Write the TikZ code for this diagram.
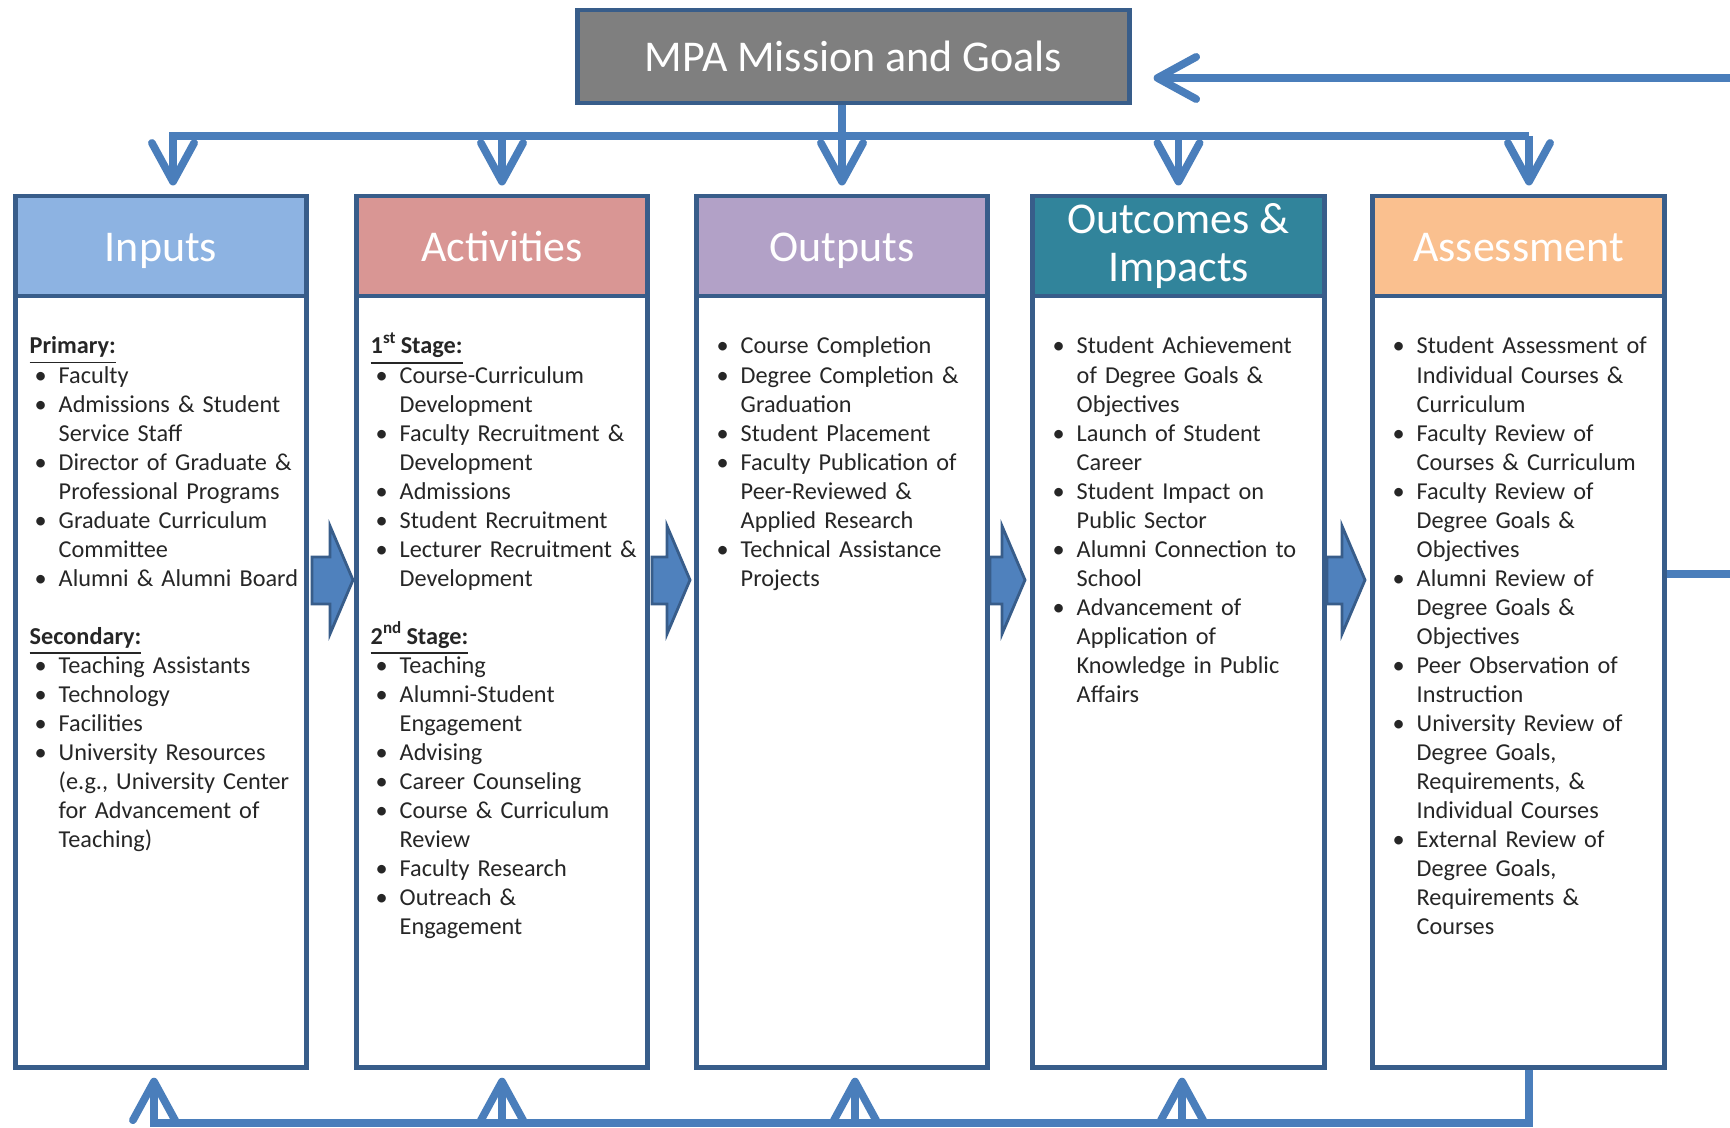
\documentclass[tikz,border=0pt]{standalone}
\usepackage{fontspec}
\setmainfont{Carlito}
\usetikzlibrary{arrows.meta}

\definecolor{mpagray}{HTML}{7F7F7F}
\definecolor{edgeblue}{HTML}{385D8A}
\definecolor{flowblue}{HTML}{4A7EBB}
\definecolor{blockc}{HTML}{4F81BD}
\definecolor{inputsc}{HTML}{8DB3E2}
\definecolor{activc}{HTML}{D99694}
\definecolor{outputc}{HTML}{B2A1C7}
\definecolor{outcomec}{HTML}{31849B}
\definecolor{assessc}{HTML}{FAC08F}

% list items with a hanging indent
\newcommand{\fitm}{\noindent\hangindent=2.9mm\hangafter=1\makebox[2.9mm][l]{\hspace{0.5mm}\textbullet}}
\newcommand{\itm}{\par\fitm}
\newcommand{\nl}{\hfil\break}
\newcommand{\gap}{\par\vspace{8.25pt}}

\begin{document}
\begin{tikzpicture}[x=0.01cm, y=-0.01cm,
    headbox/.style={draw=edgeblue, line width=1.4pt, minimum width=2.91cm, minimum height=1cm,
        inner sep=0pt, text=white, align=center, font=\fontsize{12.5}{13.8}\selectfont},
    oneline/.style={text height=11pt, text depth=2.4pt},
    bodybox/.style={draw=edgeblue, line width=1.4pt, fill=white, minimum width=2.91cm, minimum height=7.71cm},
    coltext/.style={anchor=base west, inner sep=0pt, text width=2.74cm, text=black!85,
        font=\fontsize{6.9}{8.25}\selectfont, execute at begin node={\rightskip=0pt plus 1fil\relax}},
    flow/.style={draw=flowblue, line width=2.2pt},
    flowarr/.style={flow, -{Straight Barb[length=11pt, width=12pt, round]}, shorten >=0.08cm},
    blockarr/.style={fill=blockc, draw=edgeblue, line width=0.8pt}]
    \useasboundingbox (0,0) rectangle (1730,1128);

    % Mission box
    \node (mpa) at (853.5,56.5) [draw=edgeblue, line width=1.4pt, fill=mpagray, minimum width=5.51cm,
        minimum height=0.93cm, text=white!95, font=\fontsize{12.5}{13.8}\selectfont] {MPA Mission and Goals};

    % Column bodies
    \node[bodybox] (inB) at (161,681.5) {};
    \node[bodybox] (acB) at (502,681.5) {};
    \node[bodybox] (ouB) at (842,681.5) {};
    \node[bodybox] (ocB) at (1178.5,681.5) {};
    \node[bodybox] (asB) at (1518.5,681.5) {};

    % Column headers
    \node[headbox, oneline, fill=inputsc] (inH) at (161,246) {Inputs};
    \node[headbox, oneline, fill=activc] (acH) at (502,246) {Activities};
    \node[headbox, oneline, fill=outputc] (ouH) at (842,246) {Outputs};
    \node[headbox, fill=outcomec] (ocH) at (1178.5,246) {Outcomes \&\\Impacts};
    \node[headbox, oneline, fill=assessc] (asH) at (1518.5,246) {Assessment};

    % Column contents
    \node[coltext] (inT) at (29,354) {\underline{\textbf{Primary:}}
        \itm Faculty
        \itm Admissions \& Student\nl Service Staff
        \itm Director of Graduate \&\nl Professional Programs
        \itm Graduate Curriculum\nl Committee
        \itm Alumni \& Alumni Board
        \gap\noindent\underline{\textbf{Secondary:}}
        \itm Teaching Assistants
        \itm Technology
        \itm Facilities
        \itm University Resources\nl (e.g., University Center\nl for Advancement of\nl Teaching)\par};
    \node[coltext] (acT) at (370,354) {\underline{\textbf{1\textsuperscript{st}\hspace{1pt}Stage:}}
        \itm Course-Curriculum\nl Development
        \itm Faculty Recruitment \&\nl Development
        \itm Admissions
        \itm Student Recruitment
        \itm Lecturer Recruitment \&\nl Development
        \gap\noindent\underline{\textbf{2\textsuperscript{nd}\hspace{1pt}Stage:}}
        \itm Teaching
        \itm Alumni-Student\nl Engagement
        \itm Advising
        \itm Career Counseling
        \itm Course \& Curriculum\nl Review
        \itm Faculty Research
        \itm Outreach \&\nl Engagement\par};
    \node[coltext] (ouT) at (711,354) {\fitm Course Completion
        \itm Degree Completion \&\nl Graduation
        \itm Student Placement
        \itm Faculty Publication of\nl Peer-Reviewed \&\nl Applied Research
        \itm Technical Assistance\nl Projects\par};
    \node[coltext] (ocT) at (1047,354) {\fitm Student Achievement\nl of Degree Goals \&\nl Objectives
        \itm Launch of Student\nl Career
        \itm Student Impact on\nl Public Sector
        \itm Alumni Connection to\nl School
        \itm Advancement of\nl Application of\nl Knowledge in Public\nl Affairs\par};
    \node[coltext] (asT) at (1387,354) {\fitm Student Assessment of\nl Individual Courses \&\nl Curriculum
        \itm Faculty Review of\nl Courses \& Curriculum
        \itm Faculty Review of\nl Degree Goals \&\nl Objectives
        \itm Alumni Review of\nl Degree Goals \&\nl Objectives
        \itm Peer Observation of\nl Instruction
        \itm University Review of\nl Degree Goals,\nl Requirements, \&\nl Individual Courses
        \itm External Review of\nl Degree Goals,\nl Requirements \&\nl Courses\par};

    % Block arrows between columns
    \foreach \s/\t in {312/353, 652/690, 990/1025, 1327/1365}
    {
        \draw[blockarr] (\s,557) -- ({\t-23},557) -- ({\t-23},526) -- (\t,580)
            -- ({\t-23},634) -- ({\t-23},604) -- (\s,604) -- cycle;
    }

    % Mission down to the columns
    \coordinate (busL) at (173,136);
    \coordinate (busR) at (1529,136);
    \draw[flow] (mpa.south -| ouH.north) -- (ouH.north |- busL);
    \draw[flowarr] (busR) -- (busL) -- (busL |- inH.north);
    \draw[flowarr] (busR) -- (busR |- asH.north);
    \foreach \n in {acH, ouH, ocH}
    {
        \draw[flowarr] (\n.north |- busL) -- (\n.north);
    }

    % Assessment back to the columns
    \coordinate (botL) at (154,1123);
    \coordinate (botR) at (1529,1123);
    \draw[flowarr] (asB.south -| botR) -- (botR) -- (botL) -- (botL |- inB.south);
    \foreach \n/\d in {acB/0, ouB/13, ocB/3.5}
    {
        \draw[flowarr] ([xshift=\d*0.01cm]\n.south) ++(0,56) -- ([xshift=\d*0.01cm]\n.south);
    }

    % Assessment back to the mission
    \coordinate (fbB) at (1730,574);
    \coordinate (fbT) at (1730,78);
    \draw[flow] (asB.east |- fbB) -- (fbB);
    \draw[flowarr, shorten >=0.22cm] (fbT) -- (mpa.east |- fbT);
\end{tikzpicture}
\end{document}
